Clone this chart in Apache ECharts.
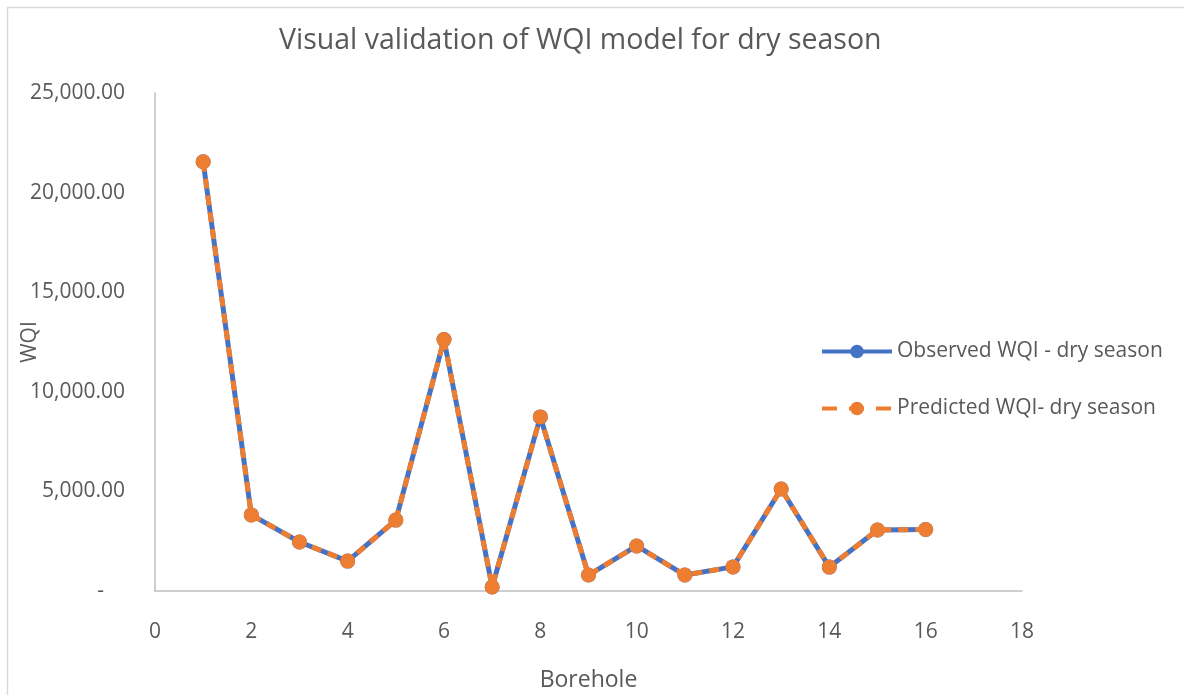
<!DOCTYPE html>
<html>
<head>
<meta charset="utf-8">
<script src="https://cdn.jsdelivr.net/npm/echarts@6/dist/echarts.min.js"></script>
<style>html,body{margin:0;padding:0;background:#fff}#c{width:1184px;height:695px}</style>
</head>
<body>
<div id="c"></div>
<script>
const boreholes = [1,2,3,4,5,6,7,8,9,10,11,12,13,14,15,16];
const observed  = [21550,3820,2460,1500,3560,12620,200,8740,800,2260,800,1210,5120,1200,3060,3090];
const predicted = [21550,3820,2460,1500,3560,12620,200,8740,800,2260,800,1210,5120,1200,3060,3090];
const seriesNames = ['Observed WQI - dry season', 'Predicted WQI- dry season'];
const titleText = 'Visual validation of WQI model for dry season';

const FONT = '"Open Sans", "Noto Sans", sans-serif';
const TXT = '#595959';
const chart = echarts.init(document.getElementById('c'), null, {renderer: 'canvas'});
chart.setOption({
  animation: false,
  backgroundColor: '#fff',
  graphic: [{
    type: 'rect', shape: {x: 7.5, y: 7.5, width: 1200, height: 700},
    style: {fill: 'none', stroke: '#D9D9D9', lineWidth: 1.5}, silent: true, z: -1
  }],
  title: {
    text: titleText, left: 274, top: 21,
    textStyle: {fontFamily: FONT, fontSize: 28.5, fontWeight: 'normal', color: TXT}
  },
  grid: {left: 155, right: 162, top: 93, bottom: 104, containLabel: false, outerBoundsMode: 'none'},
  legend: {
    orient: 'vertical', left: 815, top: 336, itemGap: 36,
    itemWidth: 70, itemHeight: 17,
    lineStyle: {width: 4},
    textStyle: {fontFamily: FONT, fontSize: 21, color: TXT},
    data: [
      {name: seriesNames[0]},
      {name: seriesNames[1], lineStyle: {width: 4, type: [15, 12]}}
    ]
  },
  xAxis: {
    type: 'value', min: 0, max: 18, interval: 2,
    name: 'Borehole', nameLocation: 'middle', nameGap: 78, nameMoveOverlap: false,
    nameTextStyle: {fontFamily: FONT, fontSize: 23, color: TXT},
    axisLine: {show: true, lineStyle: {color: '#BFBFBF', width: 1.5}},
    axisTick: {show: false},
    splitLine: {show: false},
    axisLabel: {fontFamily: FONT, fontSize: 21, color: TXT, margin: 31}
  },
  yAxis: {
    type: 'value', min: 0, max: 25000, interval: 5000,
    name: 'WQI', nameLocation: 'middle', nameGap: 114, nameRotate: 90, nameMoveOverlap: false,
    nameTextStyle: {fontFamily: FONT, fontSize: 21, color: TXT},
    axisLine: {show: true, lineStyle: {color: '#BFBFBF', width: 1.5}},
    axisTick: {show: false},
    splitLine: {show: false},
    axisLabel: {
      fontFamily: FONT, fontSize: 21, color: TXT, margin: 30,
      formatter: v => v === 0 ? '-\u2002\u2002' : v.toLocaleString('en-US', {minimumFractionDigits: 2, maximumFractionDigits: 2})
    }
  },
  series: [
    {
      name: seriesNames[0], type: 'line',
      data: boreholes.map((b, i) => [b, observed[i]]),
      symbol: 'circle', symbolSize: 15,
      lineStyle: {color: '#4472C4', width: 5},
      itemStyle: {color: '#4472C4'}, z: 2
    },
    {
      name: seriesNames[1], type: 'line',
      data: boreholes.map((b, i) => [b, predicted[i]]),
      symbol: 'circle', symbolSize: 15,
      lineStyle: {color: '#ED7D31', width: 5, type: [10, 7]},
      itemStyle: {color: '#ED7D31'}, z: 3
    }
  ]
});
</script>
</body>
</html>
